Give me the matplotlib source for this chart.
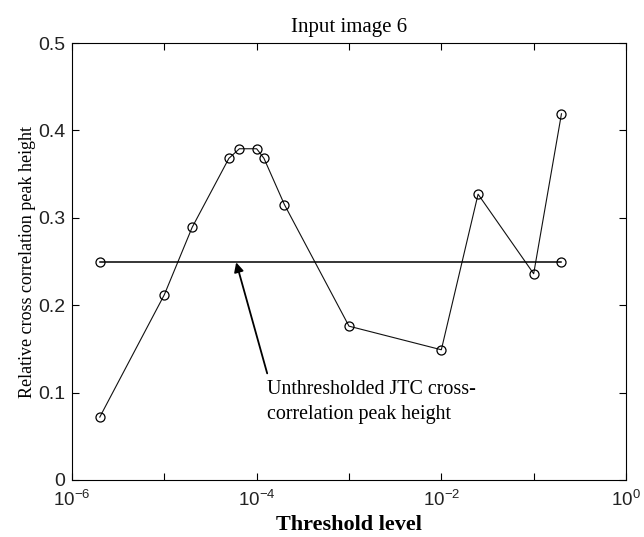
import matplotlib
matplotlib.use("Agg")
import matplotlib.pyplot as plt
import numpy as np

plt.rcParams['mathtext.fontset'] = 'custom'
plt.rcParams['mathtext.rm'] = 'Liberation Sans'
plt.rcParams['mathtext.it'] = 'Liberation Sans'
plt.rcParams['mathtext.bf'] = 'Liberation Sans:bold'

threshold = [2e-6, 1e-5, 2e-5, 5e-5, 6.5e-5, 1e-4, 1.2e-4, 2e-4, 1e-3, 1e-2, 2.5e-2, 1e-1, 2e-1]
peak = [0.072, 0.212, 0.289, 0.368, 0.379, 0.379, 0.368, 0.315, 0.176, 0.149, 0.327, 0.236, 0.419]
unthresh_x = [2e-6, 2e-1]
unthresh_y = [0.25, 0.25]

xticks = [1e-6, 1e-4, 1e-2, 1e0]
xticklabels = [r'$\mathregular{10^{-6}}$', r'$\mathregular{10^{-4}}$', r'$\mathregular{10^{-2}}$', r'$\mathregular{10^{0}}$']
xticks_minor = [1e-5, 1e-3, 1e-1]
yticks = [0, 0.1, 0.2, 0.3, 0.4, 0.5]
yticklabels = ['0', '0.1', '0.2', '0.3', '0.4', '0.5']

fig = plt.figure(figsize=(6.44, 5.37), dpi=100)
ax = fig.add_axes([72/644, 1-480/537, (626-72)/644, (480-43)/537])

ax.plot(threshold, peak, '-', color='#111111', lw=0.8, marker='o', mfc='none', mec='black', ms=6.5, mew=0.9)
ax.plot(unthresh_x, unthresh_y, '-', color='black', lw=1.1, marker='o', mfc='none', mec='black', ms=6.5, mew=0.9)

ax.set_xscale('log')
ax.set_xlim(1e-6, 1)
ax.set_ylim(0, 0.5)
ax.set_xticks(xticks)
ax.set_xticklabels(xticklabels)
ax.set_xticks(xticks_minor, minor=True)
ax.set_xticklabels([], minor=True)
ax.set_yticks(yticks)
ax.set_yticklabels(yticklabels)
ax.tick_params(which='both', direction='in', top=True, right=True, length=5, width=0.8)
ax.tick_params(axis='y', labelsize=14, pad=5)
ax.tick_params(axis='x', labelsize=13.5, pad=7)
for lab in ax.get_xticklabels() + ax.get_yticklabels():
    lab.set_family('Liberation Sans')
    lab.set_color('#222222')
for s in ax.spines.values():
    s.set_linewidth(0.8)

ax.set_title('Input image 6', family='Liberation Serif', fontsize=15, pad=8)
ax.set_xlabel('Threshold level', family='Liberation Serif', fontsize=16, fontweight='bold', labelpad=4)
ax.set_ylabel('Relative cross correlation peak height', family='Liberation Serif', fontsize=13, labelpad=1)

ax.text(1.3e-4, 0.1145, 'Unthresholded JTC cross-\ncorrelation peak height',
        family='Liberation Serif', fontsize=14.4, ha='left', va='top', linespacing=1.4)
ax.annotate('', xy=(6e-5, 0.249), xytext=(1.3e-4, 0.122),
            arrowprops=dict(arrowstyle='-|>', color='black', lw=1.3, mutation_scale=14, shrinkA=0, shrinkB=0))

fig.savefig('out.png', dpi=100)
